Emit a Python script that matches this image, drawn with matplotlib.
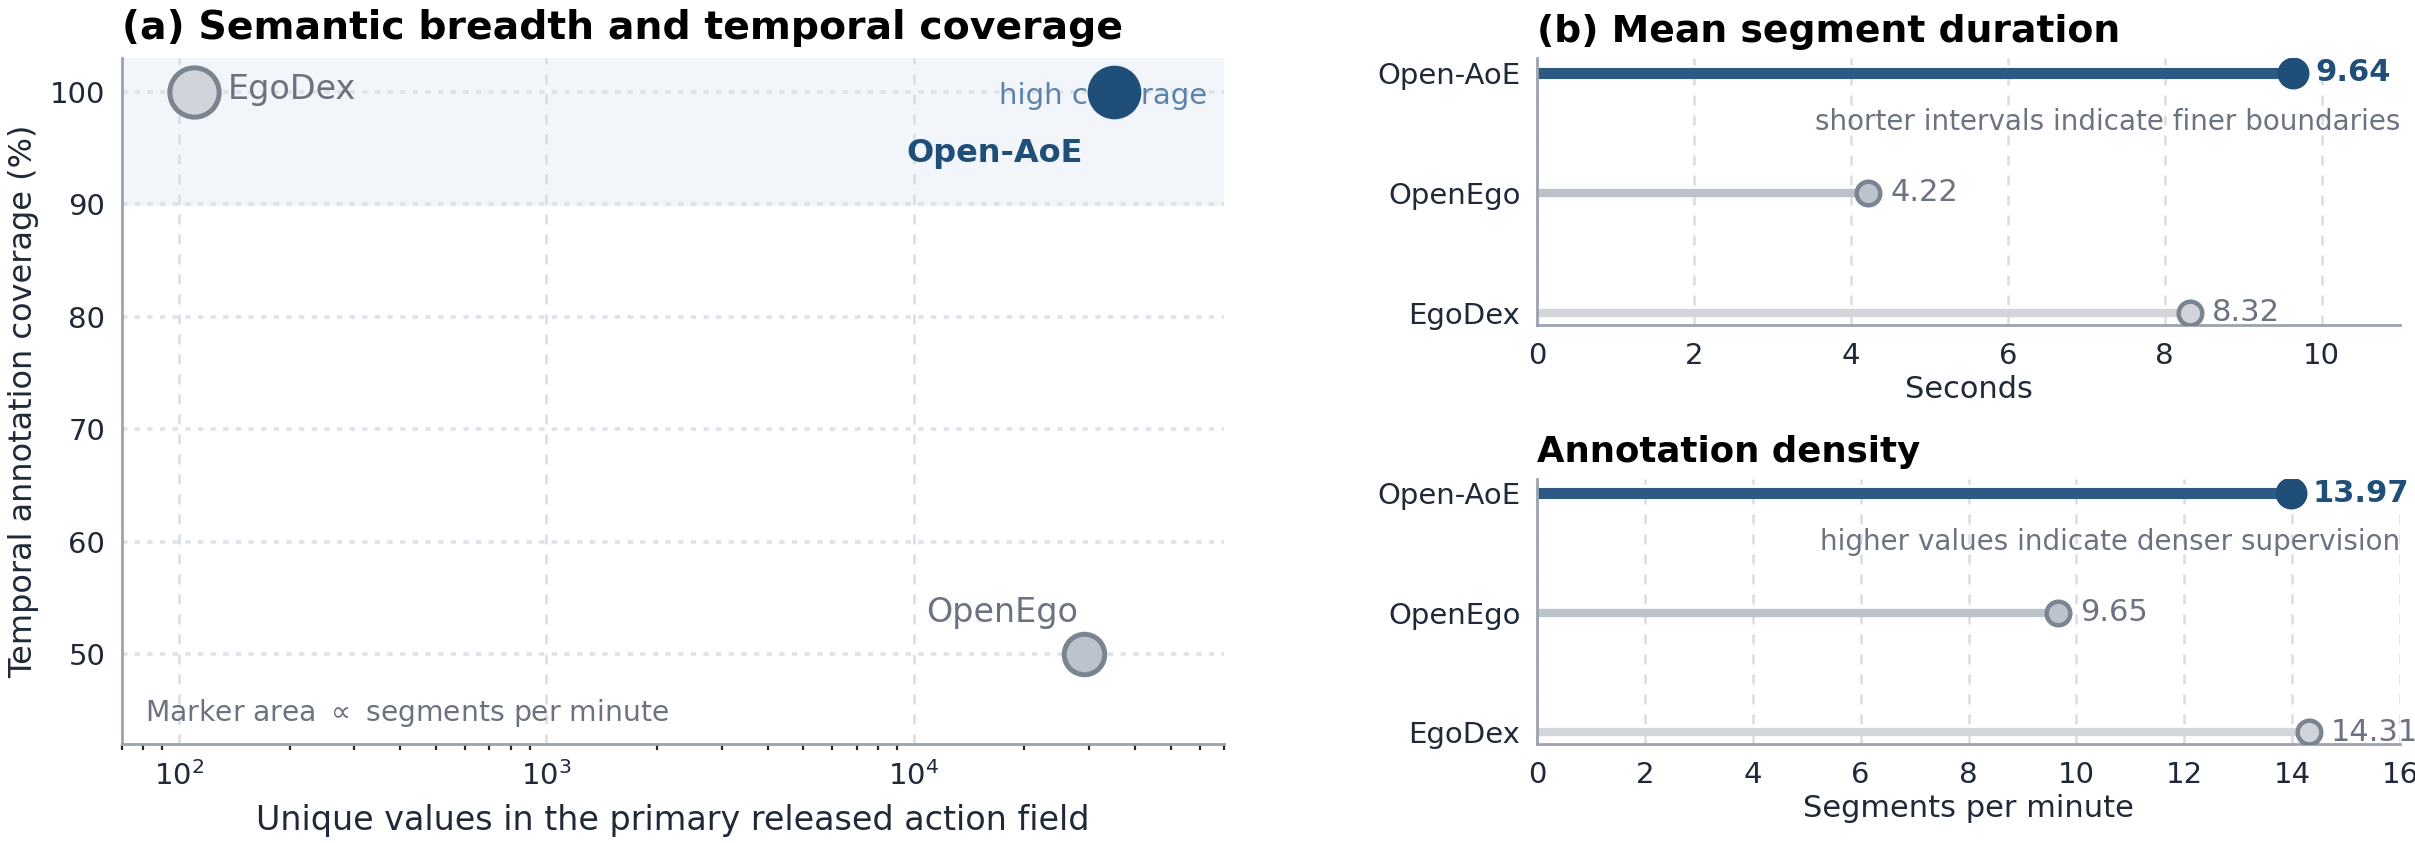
import matplotlib
matplotlib.use('Agg')
import matplotlib.pyplot as plt
import matplotlib.transforms as mtransforms
import numpy as np

# data
datasets = ['Open-AoE', 'OpenEgo', 'EgoDex']
unique_actions = [35000, 29000, 110]
coverage = [100, 50, 100]
seg_duration = [9.64, 4.22, 8.32]
seg_per_min = [13.97, 9.65, 14.31]

NAVY = '#1f4e79'
NAVY_LINE = '#2c5a85'
DARK = '#1f2937'
MUTED = '#6b7280'
SPINE = '#9aa3ae'
GRID = '#d8dde4'
EDGE = '#7b8491'
face = {'Open-AoE': NAVY, 'OpenEgo': '#bcc3cc', 'EgoDex': '#d1d5db'}
line_col = {'Open-AoE': NAVY_LINE, 'OpenEgo': '#bcc2ca', 'EgoDex': '#d2d6db'}

plt.rcParams['font.family'] = 'DejaVu Sans'

fig = plt.figure(figsize=(12.075, 4.215), dpi=200)
ax_a = fig.add_axes([0.0505, 0.1175, 0.4565, 0.8135])
ax_b = fig.add_axes([0.6365, 0.6145, 0.3573, 0.3165])
ax_c = fig.add_axes([0.6365, 0.1175, 0.3573, 0.3145])


def style_axes(ax):
    for s in ['top', 'right']:
        ax.spines[s].set_visible(False)
    for s in ['left', 'bottom']:
        ax.spines[s].set_color(SPINE)
        ax.spines[s].set_linewidth(1.0)
    ax.tick_params(which='major', length=0, labelsize=10.5, labelcolor=DARK, pad=6)


# ---- (a) scatter ----
style_axes(ax_a)
ax_a.set_xscale('log')
ax_a.set_xlim(70, 70000)
ax_a.set_ylim(42, 103)
ax_a.axhspan(90, 103, color='#f2f6fa', zorder=0)
ax_a.set_yticks([50, 60, 70, 80, 90, 100])
ax_a.grid(axis='x', which='major', linestyle=(0, (4, 4)), color=GRID, lw=0.9, zorder=1)
ax_a.grid(axis='y', which='major', linestyle=(0, (1.5, 2)), color='#dde2e8', lw=1.3, zorder=1)
ax_a.tick_params(which='minor', axis='x', length=2.2, width=0.8, color=DARK)
ax_a.tick_params(which='minor', axis='y', length=0)

for name, x, y, spm in zip(datasets, unique_actions, coverage, seg_per_min):
    if name == 'Open-AoE':
        ax_a.scatter(x, y, s=spm * 24, color=NAVY, edgecolor=NAVY, lw=1, zorder=4)
    else:
        ax_a.scatter(x, y, s=spm * 22, color=face[name], edgecolor=EDGE, lw=1.8, zorder=4)

trans = mtransforms.blended_transform_factory(ax_a.transAxes, ax_a.transData)
ax_a.text(0.984, 99.6, 'high coverage', transform=trans, ha='right', va='center',
          fontsize=10.5, color='#5b82a8', zorder=3)

ax_a.annotate('EgoDex', (unique_actions[2], coverage[2]), xytext=(12, 1),
              textcoords='offset points', ha='left', va='center', fontsize=12, color=MUTED)
ax_a.annotate('OpenEgo', (unique_actions[1], coverage[1]), xytext=(-2, 15),
              textcoords='offset points', ha='right', va='center', fontsize=12, color=MUTED)
ax_a.annotate('Open-AoE', (unique_actions[0], coverage[0]), xytext=(-11, -22),
              textcoords='offset points', ha='right', va='center', fontsize=11.5,
              color=NAVY, fontweight='bold')

ax_a.text(0.021, 0.045, r'Marker area $\propto$ segments per minute', transform=ax_a.transAxes,
          ha='left', va='center', fontsize=10.2, color=MUTED)

ax_a.set_xlabel('Unique values in the primary released action field', fontsize=12, color=DARK, labelpad=5)
ax_a.set_ylabel('Temporal annotation coverage (%)', fontsize=11.5, color=DARK, labelpad=4)
ax_a.set_title('(a) Semantic breadth and temporal coverage', loc='left', fontsize=14.2,
               fontweight='bold', pad=7)


# ---- (b) lollipops ----
def lollipop(ax, values, xmax, xlabel, title, note, title_size):
    style_axes(ax)
    ypos = [2, 1, 0]
    ax.set_xlim(0, xmax)
    ax.set_ylim(-0.1, 2.12)
    ax.grid(axis='x', linestyle=(0, (4, 4)), color=GRID, lw=0.9, zorder=0)
    for name, y, v in zip(datasets, ypos, values):
        if name == 'Open-AoE':
            ax.hlines(y, 0, v, color=NAVY_LINE, lw=4, zorder=2)
            ax.plot(v, y, 'o', ms=10.5, color=NAVY, zorder=3)
            ax.annotate(f'{v:.2f}', (v, y), xytext=(8, 0), textcoords='offset points',
                        ha='left', va='center', fontsize=11, color=NAVY, fontweight='bold')
        else:
            ax.hlines(y, 0, v, color=line_col[name], lw=3, zorder=2)
            ax.plot(v, y, 'o', ms=8.5, mfc=face[name], mec=EDGE, mew=1.6, zorder=3)
            ax.annotate(f'{v:.2f}', (v, y), xytext=(8, 0), textcoords='offset points',
                        ha='left', va='center', fontsize=11, color=MUTED)
    ax.set_yticks(ypos)
    ax.set_yticklabels(datasets)
    ax.text(1.0, 1.59, note, transform=mtransforms.blended_transform_factory(ax.transAxes, ax.transData),
            ha='right', va='center', fontsize=10, color=MUTED)
    ax.set_xlabel(xlabel, fontsize=11, color=DARK, labelpad=2)
    ax.set_title(title, loc='left', fontsize=title_size, fontweight='bold', pad=6)


lollipop(ax_b, seg_duration, 11, 'Seconds', '(b) Mean segment duration',
         'shorter intervals indicate finer boundaries', 13.6)
ax_b.set_xticks([0, 2, 4, 6, 8, 10])
lollipop(ax_c, seg_per_min, 16, 'Segments per minute', 'Annotation density',
         'higher values indicate denser supervision', 12.8)
ax_c.set_xticks(np.arange(0, 17, 2))

fig.savefig('out.png', dpi=200)
